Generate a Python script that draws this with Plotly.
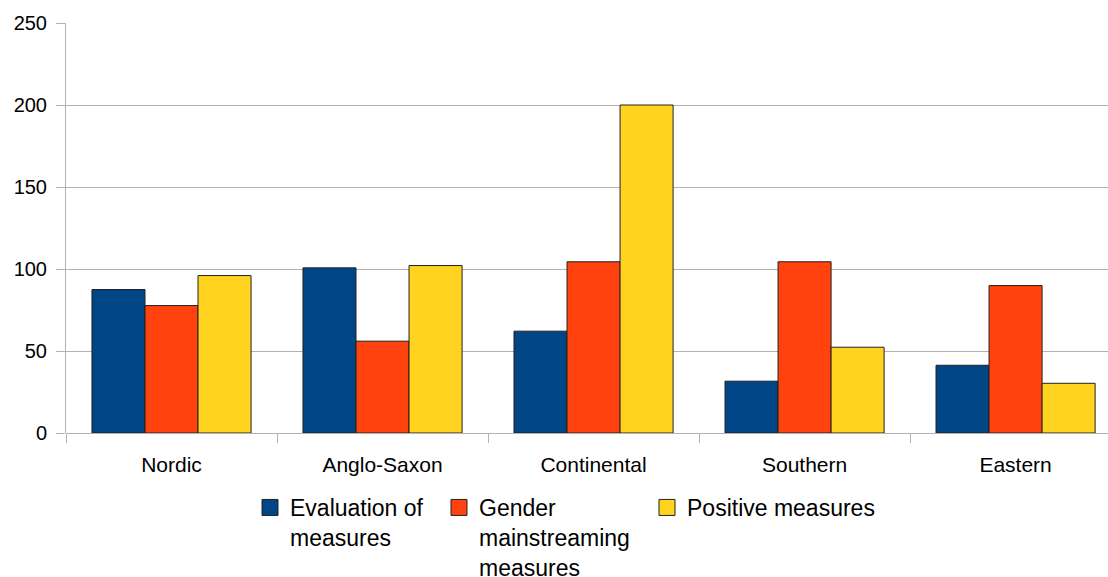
import plotly.graph_objects as go

categories = ["Nordic", "Anglo-Saxon", "Continental", "Southern", "Eastern"]
evaluation = [87.5, 100.7, 62.1, 31.6, 41.3]
gender_mainstreaming = [77.7, 56.0, 104.4, 104.4, 89.9]
positive = [96.0, 102.1, 200.0, 52.3, 30.3]

series_names = ["Evaluation of<br>measures", "Gender<br>mainstreaming<br>measures", "Positive measures"]
series_values = [evaluation, gender_mainstreaming, positive]
colors = ["#004586", "#FF420E", "#FFD320"]

y_ticks = [0, 50, 100, 150, 200, 250]

legend_ids = ["legend", "legend2", "legend3"]
legend_left_px = [250, 439, 647]

fig = go.Figure()
for name, vals, col in zip(series_names, series_values, colors):
    fig.add_trace(go.Bar(
        x=categories, y=vals, name=name, showlegend=False,
        marker=dict(color=col, line=dict(color="#222222", width=1)),
    ))
# legend entries (square swatches), one legend box per entry
for name, col, lid in zip(series_names, colors, legend_ids):
    fig.add_trace(go.Scatter(
        x=[None], y=[None], name=name, mode="markers", legend=lid,
        marker=dict(symbol="square", size=16, color=col, line=dict(color="#222222", width=1)),
    ))

font_family = "Liberation Sans, Arial, sans-serif"
layout_legends = {}
for lid, lx in zip(legend_ids, legend_left_px):
    layout_legends[lid] = dict(
        orientation="h", xref="container", yref="container",
        x=lx / 1108, xanchor="left", y=1 - 486 / 577, yanchor="top",
        font=dict(size=23, color="black"), valign="top",
        itemwidth=30, bgcolor="rgba(0,0,0,0)",
    )

fig.update_layout(
    width=1108, height=577,
    paper_bgcolor="white", plot_bgcolor="white",
    margin=dict(l=66, r=0, t=23, b=144),
    barmode="group", bargap=0.246, bargroupgap=0,
    font=dict(family=font_family, color="black", size=20),
    xaxis=dict(
        type="category", range=[-0.5, 4.438],
        showgrid=False, showline=False, zeroline=False,
        ticks="outside", tickson="boundaries", ticklen=9, tickcolor="#b3b3b3",
        tickfont=dict(size=21, color="black"), ticklabelstandoff=17,
    ),
    yaxis=dict(
        range=[0, 250], tickvals=y_ticks,
        showgrid=True, gridcolor="#b3b3b3", gridwidth=1,
        showline=True, linecolor="#b3b3b3", linewidth=1,
        zeroline=True, zerolinecolor="#b3b3b3", zerolinewidth=1,
        ticks="outside", ticklen=9, tickcolor="#b3b3b3",
        tickfont=dict(size=20, color="black"), ticklabelstandoff=5,
    ),
    **layout_legends,
)

fig.write_html("out.html", config={"displayModeBar": False},
               post_script="document.body.style.margin='0';")
